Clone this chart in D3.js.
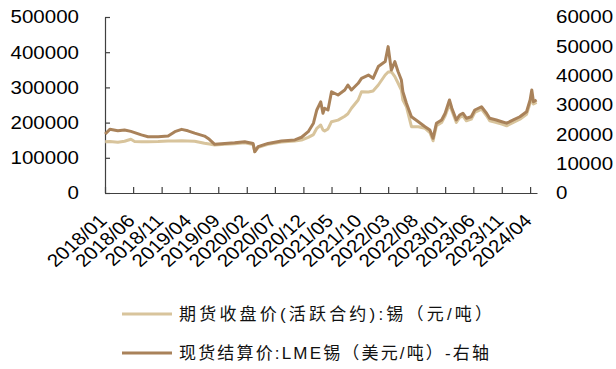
<!DOCTYPE html>
<html>
<head>
<meta charset="utf-8">
<script src="https://cdn.jsdelivr.net/npm/d3@7"></script>
<style>
  html, body { margin: 0; padding: 0; background: #fff; }
  svg { display: block; }
  text { font-family: "Liberation Sans", Arial, "Noto Sans CJK SC", sans-serif; fill: #000; }
</style>
</head>
<body>
<svg id="chart" width="616" height="369"></svg>
<script>
// ---------- DATA ----------
const dates = [
  "2018-01-02","2018-01-27","2018-03-11","2018-04-16","2018-05-20","2018-06-09","2018-07-15","2018-08-20",
  "2018-10-13","2018-12-06","2019-01-11","2019-02-16","2019-03-22","2019-04-27","2019-06-19","2019-07-15",
  "2019-08-13","2019-10-06","2019-11-28","2020-01-21","2020-03-06","2020-03-15","2020-04-02","2020-05-25",
  "2020-08-05","2020-10-16","2020-11-21","2020-12-27","2021-01-24","2021-02-11","2021-03-04","2021-03-16",
  "2021-03-25","2021-04-12","2021-05-01","2021-06-05","2021-07-11","2021-07-28","2021-08-16","2021-09-21",
  "2021-10-09","2021-11-15","2021-12-10","2022-01-07","2022-02-13","2022-03-01","2022-03-18","2022-04-06",
  "2022-04-23","2022-05-11","2022-05-19","2022-06-07","2022-07-04","2022-08-10","2022-09-15","2022-10-11",
  "2022-10-28","2022-11-15","2022-12-13","2023-01-01","2023-01-24","2023-02-06","2023-03-02","2023-03-20",
  "2023-04-06","2023-04-25","2023-05-21","2023-06-09","2023-07-15","2023-08-11","2023-08-28","2023-10-03",
  "2023-11-01","2023-11-27","2024-01-02","2024-02-06","2024-03-13","2024-04-01","2024-04-10","2024-04-19",
  "2024-05-06"
];
// 期货收盘价(活跃合约):锡 (元/吨) - left axis
const shfeValues = [
  145700,146500,144000,146900,152600,146500,145700,145500,
  146000,147500,148000,148600,147800,146900,141200,139000,
  136400,138500,140000,142500,138000,117000,130000,138500,
  145000,148000,150600,158000,166000,183800,193200,179000,
  176000,182000,202600,207000,218000,225000,240600,264200,
  287800,287000,290000,306800,335200,343700,344600,330400,
  312500,292600,264200,245200,188400,188400,183800,171900,
  148300,190900,200300,219300,252000,233500,200300,214500,
  219300,205100,209700,228700,238100,219300,205100,200300,
  195500,190900,200300,209700,223900,255700,272000,252800,
  257100
];
// 现货结算价:LME锡 (美元/吨) - right axis
const lmeValues = [
  20100,21700,21200,21500,21000,20600,19800,19200,
  19200,19400,20900,21700,21200,20400,19400,18300,
  16600,16900,17150,17500,16900,14100,15800,16900,
  17700,18100,19000,20900,23800,28300,31100,27200,
  28900,28300,34500,33400,35100,36800,35100,37400,
  39100,40200,39100,43100,44800,49900,41900,44800,
  41400,38500,34500,30600,26000,24300,22600,21500,
  18650,23750,24900,27200,31700,28900,24900,26600,
  27200,25500,26000,28300,29400,27200,25500,24900,
  24300,23800,24900,26000,27700,31700,35100,31100,
  31700
];
const tickLabels = ["2018/01","2018/06","2018/11","2019/04","2019/09","2020/02","2020/07","2020/12",
  "2021/05","2021/10","2022/03","2022/08","2023/01","2023/06","2023/11","2024/04"];
const leftTicks = [0,100000,200000,300000,400000,500000];
const rightTicks = [0,10000,20000,30000,40000,50000,60000];
const seriesNames = ["期货收盘价(活跃合约):锡（元/吨）", "现货结算价:LME锡（美元/吨）-右轴"];
const seriesColors = ["#D8C49C", "#A9825A"];

// ---------- LAYOUT ----------
const svg = d3.select("#chart");
const parse = d3.timeParse("%Y-%m-%d");
const parseTick = d3.timeParse("%Y/%m");
const plotLeft = 105, plotRight = 537, plotTop = 17, plotBottom = 193;
const SX = 1.14;   // horizontal text stretch seen in the reference
const FS = 18;

const x = d3.scaleTime()
  .domain([parse("2018-01-01"), parse("2024-05-08")])
  .range([plotLeft, plotRight]);
const yL = d3.scaleLinear().domain([0, 500000]).range([plotBottom, plotTop]);
const yR = d3.scaleLinear().domain([0, 60000]).range([plotBottom, plotTop]);

const rows = dates.map((d, i) => ({ date: parse(d), shfe: shfeValues[i], lme: lmeValues[i] }));

// ---------- AXES ----------
const axisColor = "#404040";
const gxa = svg.append("g")
  .attr("transform", `translate(0,${plotBottom})`)
  .call(d3.axisBottom(x)
    .tickValues(tickLabels.map(t => parseTick(t)))
    .tickSizeInner(-6).tickSizeOuter(0).tickFormat(""));
const gya = svg.append("g")
  .attr("transform", `translate(${plotLeft},0)`)
  .call(d3.axisLeft(yL).tickValues(leftTicks).tickSizeInner(-5).tickSizeOuter(0).tickFormat(""));
[gxa, gya].forEach(g => {
  g.selectAll("path").attr("stroke", axisColor).attr("stroke-width", 1.2);
  g.selectAll("line").attr("stroke", axisColor).attr("stroke-width", 1.2);
});

// left labels
svg.append("g").selectAll("text").data(leftTicks).join("text")
  .attr("transform", d => `translate(79,${yL(d)}) scale(${SX},1)`)
  .attr("text-anchor", "end").attr("dy", "0.35em")
  .style("font-size", FS + "px")
  .text(d => d3.format("d")(d));

// right labels
svg.append("g").selectAll("text").data(rightTicks).join("text")
  .attr("transform", d => `translate(556,${yR(d)}) scale(${SX},1)`)
  .attr("text-anchor", "start").attr("dy", "0.35em")
  .style("font-size", FS + "px")
  .text(d => d3.format("d")(d));

// x labels
svg.append("g").selectAll("text").data(tickLabels).join("text")
  .attr("transform", d => `translate(${x(parseTick(d)) + 3},222) scale(${SX},1) rotate(-45)`)
  .attr("text-anchor", "end")
  .style("font-size", FS + "px")
  .text(d => d);

// ---------- LINES ----------
const lineShfe = d3.line().x(d => x(d.date)).y(d => yL(d.shfe));
const lineLme = d3.line().x(d => x(d.date)).y(d => yR(d.lme));
svg.append("path").datum(rows)
  .attr("d", lineShfe).attr("fill", "none")
  .attr("stroke", seriesColors[0]).attr("stroke-width", 3)
  .attr("stroke-linejoin", "round");
svg.append("path").datum(rows)
  .attr("d", lineLme).attr("fill", "none")
  .attr("stroke", seriesColors[1]).attr("stroke-width", 3)
  .attr("stroke-linejoin", "round");

// ---------- LEGEND ----------
const legendY = [314, 353];
const legendWidths = [313, 310];
const lg = svg.append("g");
seriesNames.forEach((name, i) => {
  lg.append("line")
    .attr("x1", 122).attr("x2", 172)
    .attr("y1", legendY[i]).attr("y2", legendY[i])
    .attr("stroke", seriesColors[i]).attr("stroke-width", 3);
  lg.append("text")
    .attr("x", 179).attr("y", legendY[i])
    .attr("dominant-baseline", "central")
    .attr("textLength", legendWidths[i])
    .attr("lengthAdjust", "spacing")
    .style("font-size", "17px")
    .style("fill", "#111")
    .text(name);
});
</script>
</body>
</html>
